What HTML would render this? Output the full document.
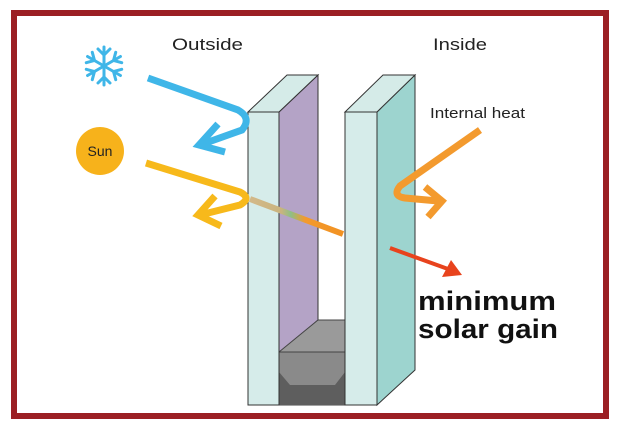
<!DOCTYPE html>
<html><head><style>body{margin:0;background:#fff}svg{display:block}</style></head><body>
<svg width="620" height="429" viewBox="0 0 620 429" xmlns="http://www.w3.org/2000/svg" font-family="Liberation Sans, sans-serif">
<rect x="14" y="13" width="592" height="403" fill="#fff" stroke="#9b1f24" stroke-width="6"/>
<defs>
<linearGradient id="beam" x1="248" y1="0" x2="343" y2="0" gradientUnits="userSpaceOnUse">
<stop offset="0" stop-color="#d4b98a"/><stop offset="0.35" stop-color="#c9b47e"/><stop offset="0.45" stop-color="#8fbf86"/><stop offset="0.6" stop-color="#f39a2e"/><stop offset="1" stop-color="#f29222"/></linearGradient>
</defs>
<polygon points="279,112 318,75 318,320 279,355" fill="#b4a3c6" stroke="#333" stroke-width="1"/>
<polygon points="248,112 279,112 318,75 287,75" fill="#d5ebe8" stroke="#333" stroke-width="1"/>
<polygon points="279,352 318,320 345,320 345,352" fill="#9a9a9a" stroke="#444" stroke-width="1"/>
<rect x="279" y="352" width="66" height="53" fill="#8a8a8a" stroke="#444"/>
<polygon points="279,372 290,385 335,385 345,372 345,405 279,405" fill="#5e5e5e"/>
<polygon points="377,112 415,75 415,370 377,405" fill="#9dd4cf" stroke="#333" stroke-width="1"/>
<polygon points="345,112 377,112 415,75 383,75" fill="#d5ebe8" stroke="#333" stroke-width="1"/>
<rect x="345" y="112" width="32" height="293" fill="#d6ecea" stroke="#333" stroke-width="1"/>
<rect x="248" y="112" width="31" height="293" fill="#d6ecea" stroke="#333" stroke-width="1"/>
<line x1="250" y1="199" x2="343" y2="234" stroke="url(#beam)" stroke-width="6"/>
<g stroke="#3fb6e8" stroke-width="3" fill="none" stroke-linecap="round" transform="translate(104,66)">
<g id="arm"><line x1="0" y1="0" x2="0" y2="-19"/><polyline points="-6,-17 0,-11 6,-17"/></g>
<use href="#arm" transform="rotate(60)"/><use href="#arm" transform="rotate(120)"/><use href="#arm" transform="rotate(180)"/><use href="#arm" transform="rotate(240)"/><use href="#arm" transform="rotate(300)"/>
</g>
<path d="M148,78 L238,110 Q252,118 242,130 L200,145" stroke="#3fb6e8" stroke-width="7" fill="none"/>
<polyline points="218,124 199,145 225,152" stroke="#3fb6e8" stroke-width="7" fill="none"/>
<circle cx="100" cy="151" r="24" fill="#f7b21b"/>
<text x="100" y="156" font-size="14" text-anchor="middle" fill="#222">Sun</text>
<path d="M146,163 L240,192 Q252,198 240,205 L200,215" stroke="#f7b91b" stroke-width="7" fill="none"/>
<polyline points="215,196 198,215 221,226" stroke="#f7b91b" stroke-width="7" fill="none"/>
<path d="M480,130 L400,186 Q392,196 405,198 L438,201" stroke="#f39a2e" stroke-width="7" fill="none"/>
<polyline points="425,187 442,201 428,217" stroke="#f39a2e" stroke-width="7" fill="none"/>
<line x1="390" y1="248" x2="448" y2="269" stroke="#e8431d" stroke-width="4"/>
<polygon points="462,275 442,277 451,260" fill="#e8431d"/>
<text x="172" y="50" font-size="17" fill="#222" textLength="71" lengthAdjust="spacingAndGlyphs">Outside</text>
<text x="433" y="50" font-size="17" fill="#222" textLength="54" lengthAdjust="spacingAndGlyphs">Inside</text>
<text x="430" y="118" font-size="15" fill="#222" textLength="95" lengthAdjust="spacingAndGlyphs">Internal heat</text>
<text x="418" y="310" font-size="27" font-weight="bold" fill="#111" textLength="138" lengthAdjust="spacingAndGlyphs">minimum</text>
<text x="418" y="338" font-size="27" font-weight="bold" fill="#111" textLength="140" lengthAdjust="spacingAndGlyphs">solar gain</text>
</svg>
</body></html>
